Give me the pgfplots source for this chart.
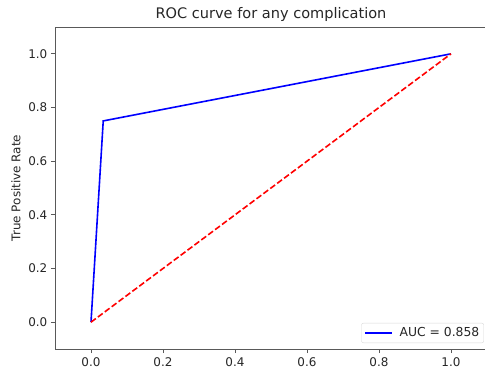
\documentclass[border=0pt]{standalone}
\usepackage{pgfplots}
\pgfplotsset{compat=1.18}
\usepackage{fontspec}
\setmainfont{DejaVu Sans}
\begin{document}
\begin{tikzpicture}[x=1bp,y=1bp]
\begin{axis}[
  at={(0,0)}, anchor=south west,
  scale only axis,
  width=432bp, height=322bp,
  xmin=-0.1, xmax=1.1, ymin=-0.1, ymax=1.1,
  xtick={0,0.2,0.4,0.6,0.8,1.0},
  ytick={0,0.2,0.4,0.6,0.8,1.0},
  xticklabels={0.0,0.2,0.4,0.6,0.8,1.0},
  yticklabels={0.0,0.2,0.4,0.6,0.8,1.0},
  /pgf/number format/assume math mode=true,
  tick align=outside,
  tick pos=left,
  major tick length=4.2bp,
  axis line style={draw=black!65, line width=0.9bp},
  every tick/.style={draw=black!65, line width=0.9bp},
  tick label style={font=\fontsize{12}{13}\selectfont, text=black!85},
  xticklabel style={yshift=-1bp},
  title={ROC curve for any complication},
  title style={font=\fontsize{14.6}{16}\selectfont, text=black!85, yshift=-4.5bp},
  ylabel={True Positive Rate},
  ylabel style={font=\fontsize{12}{13}\selectfont, text=black!85, yshift=1bp},
  legend style={at={(0.993,0.0186)}, anchor=south east, draw=black!15, rounded corners=2bp,
    font=\fontsize{12.4}{13}\selectfont, text=black!85, inner xsep=3bp, inner ysep=3bp,
    nodes={inner sep=1.5bp}},
  legend cell align=left,
  legend image code/.code={\draw[blue, line width=1.6bp] (0bp,0bp) -- (27bp,0bp);},
]
\addplot[blue, line width=1.6bp] coordinates {(0,0) (0.034,0.75) (1,1)};
\addlegendentry{\hspace{5bp}AUC = 0.858}
\addplot[red, line width=1.6bp, dash pattern=on 6bp off 2.6bp, forget plot] coordinates {(0,0) (1,1)};
\end{axis}
\pgfresetboundingbox
\path[use as bounding box] (-55bp,-27bp) rectangle (430bp,349bp);
\end{tikzpicture}
\end{document}
